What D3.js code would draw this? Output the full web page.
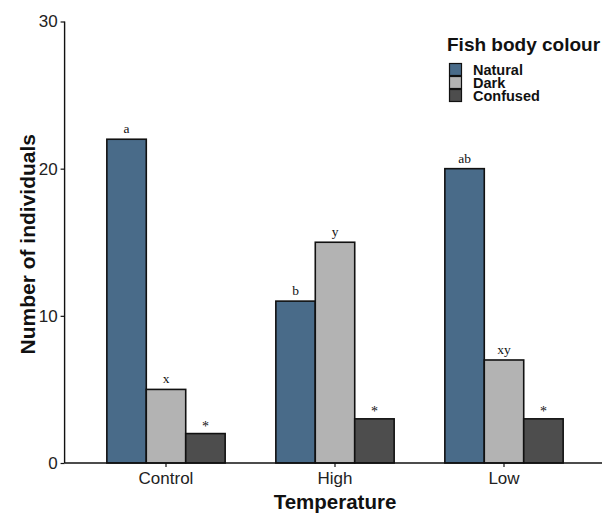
<!DOCTYPE html>
<html><head><meta charset="utf-8">
<script src="https://cdn.jsdelivr.net/npm/d3@7"></script>
<style>body{margin:0;background:#fff}svg{display:block}</style>
</head><body>
<script>
const categories = ["Control", "High", "Low"];
const seriesNames = ["Natural", "Dark", "Confused"];
const natural = [22, 11, 20];
const dark = [5, 15, 7];
const confused = [2, 3, 3];
const naturalLetters = ["a", "b", "ab"];
const darkLetters = ["x", "y", "xy"];
const confusedLetters = ["*", "*", "*"];
const yTicks = [0, 10, 20, 30];
const colors = ["#496b89", "#b3b3b3", "#4d4d4d"];

const W = 602, H = 513;
const svg = d3.select("body").append("svg").attr("width", W).attr("height", H);
const y = d3.scaleLinear().domain([0, 30]).range([463, 21.5]);
const x = d3.scaleBand().domain(categories).range([64.6, 605.4]).paddingInner(0.3).paddingOuter(0.25);
const xs = d3.scaleBand().domain(seriesNames).range([0, x.bandwidth()]);

const series = [natural, dark, confused];
const letters = [naturalLetters, darkLetters, confusedLetters];
const rows = [];
categories.forEach((c, i) => seriesNames.forEach((s, j) => rows.push({c, s, j, v: series[j][i], l: letters[j][i]})));

svg.selectAll("rect.bar").data(rows).enter().append("rect")
  .attr("x", d => x(d.c) + xs(d.s))
  .attr("y", d => y(d.v))
  .attr("width", xs.bandwidth())
  .attr("height", d => y(0) - y(d.v))
  .attr("fill", d => colors[d.j])
  .attr("stroke", "#111").attr("stroke-width", 1.6);

svg.selectAll("text.lab").data(rows).enter().append("text")
  .attr("x", d => x(d.c) + xs(d.s) + xs.bandwidth() / 2)
  .attr("y", d => y(d.v) - (d.l === "*" ? 3 : 6))
  .attr("text-anchor", "middle")
  .attr("font-family", "Liberation Serif, serif")
  .attr("font-size", d => d.l === "*" ? 14 : 13.5)
  .attr("fill", "#111")
  .text(d => d.l);

// axes
const yAxis = svg.append("g").attr("transform", "translate(64.6,0)")
  .call(d3.axisLeft(y).tickValues(yTicks).tickSize(4).tickPadding(3));
yAxis.select(".domain").attr("stroke", "#111").attr("stroke-width", 1.4).attr("d", `M0,${y(30)}V${y(0)}`);
yAxis.selectAll(".tick line").attr("stroke", "#111").attr("stroke-width", 1.2);
yAxis.selectAll(".tick text").attr("font-family", "Liberation Sans, Arial, sans-serif").attr("font-size", 17).attr("fill", "#222");

const xAxis = svg.append("g").attr("transform", `translate(0,${y(0)})`)
  .call(d3.axisBottom(x).tickSize(4).tickPadding(5));
xAxis.select(".domain").attr("stroke", "#111").attr("stroke-width", 1.4).attr("d", `M64.6,0H${W}`);
xAxis.selectAll(".tick line").attr("stroke", "#111").attr("stroke-width", 1.2);
xAxis.selectAll(".tick text").attr("font-family", "Liberation Sans, Arial, sans-serif").attr("font-size", 17).attr("fill", "#222");

svg.append("text").attr("x", 335).attr("y", 509).attr("text-anchor", "middle")
  .attr("font-family", "Liberation Sans, Arial, sans-serif").attr("font-weight", "bold").attr("font-size", 20.5)
  .attr("fill", "#111").text("Temperature");
svg.append("text").attr("transform", `translate(35,${y(15) + 2}) rotate(-90)`).attr("text-anchor", "middle")
  .attr("font-family", "Liberation Sans, Arial, sans-serif").attr("font-weight", "bold").attr("font-size", 21)
  .attr("fill", "#111").text("Number of individuals");

// legend
const lg = svg.append("g");
lg.append("text").attr("x", 447).attr("y", 51)
  .attr("font-family", "Liberation Sans, Arial, sans-serif").attr("font-weight", "bold").attr("font-size", 19)
  .attr("fill", "#111").text("Fish body colour");
seriesNames.forEach((s, j) => {
  lg.append("rect").attr("x", 449.5).attr("y", 63.5 + j * 13).attr("width", 12).attr("height", 12)
    .attr("fill", colors[j]).attr("stroke", "#111").attr("stroke-width", 1.2);
  lg.append("text").attr("x", 473).attr("y", 75 + j * 13)
    .attr("font-family", "Liberation Sans, Arial, sans-serif").attr("font-weight", "bold").attr("font-size", 14.5)
    .attr("fill", "#111").text(s);
});
</script>
</body></html>
